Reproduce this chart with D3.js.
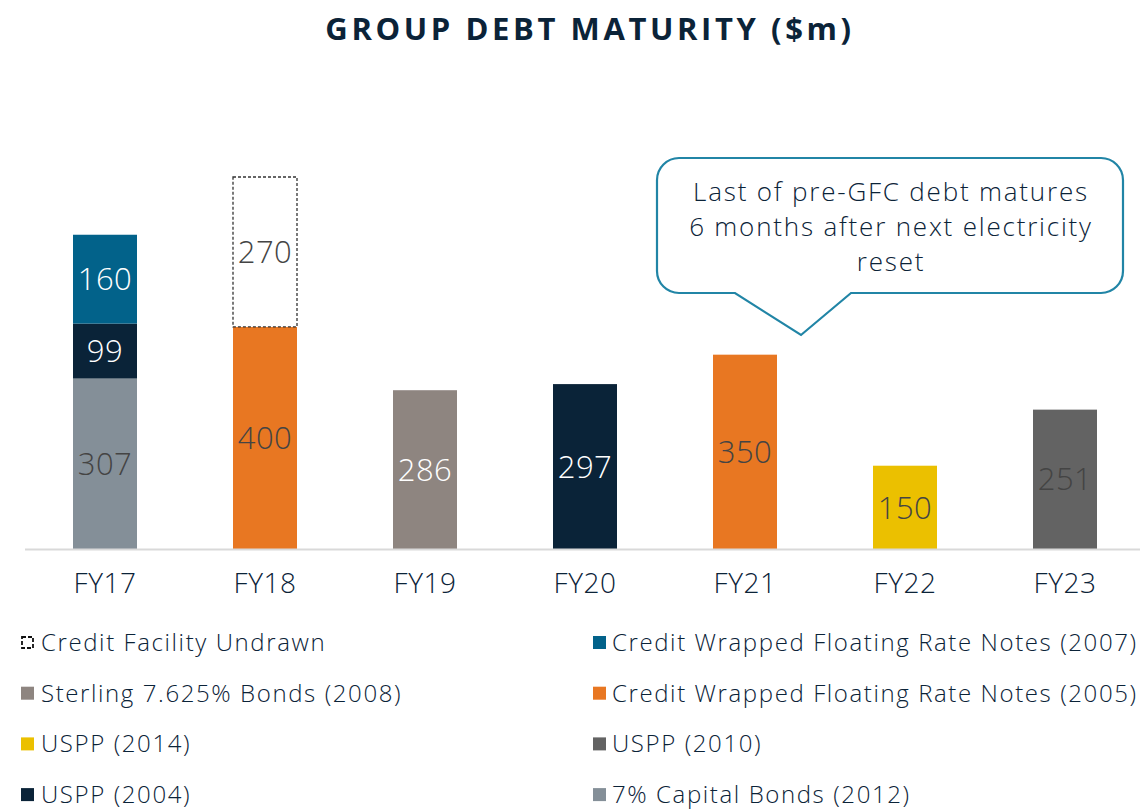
<!DOCTYPE html>
<html lang="en">
  <head>
    <meta charset="utf-8" />
    <title>Group debt maturity</title>
    <script src="https://cdnjs.cloudflare.com/ajax/libs/d3/7.8.5/d3.min.js"></script>
    <style type="text/css">
      body {
        margin: 0;
        background: #fff;
      }
      svg text {
        font-family: "Open Sans", sans-serif;
      }
      .title {
        font-size: 31px;
        font-weight: 700;
        fill: #0b2338;
        letter-spacing: 3.6px;
      }
      .tick-label {
        font-size: 28px;
        font-weight: 300;
        fill: #0b2338;
        letter-spacing: 0.5px;
      }
      .value {
        font-size: 31px;
        font-weight: 300;
        letter-spacing: 0.5px;
      }
      .legend text {
        font-size: 24px;
        font-weight: 300;
        fill: #0b2338;
        letter-spacing: 1.6px;
      }
      .callout text {
        font-size: 26px;
        font-weight: 300;
        fill: #0b2338;
        letter-spacing: 1.8px;
      }
    </style>
  </head>

  <body>
    <div id="playground"></div>

    <script>
      // categories
      const years = ["FY17", "FY18", "FY19", "FY20", "FY21", "FY22", "FY23"];

      // series, in stacking order (bottom -> top)
      const seriesKeys = ["cap2012", "uspp2004", "cwfrn2007", "cwfrn2005", "undrawn", "sterling2008", "uspp2014", "uspp2010"];
      const seriesNames = [
        "7% Capital Bonds (2012)",
        "USPP (2004)",
        "Credit Wrapped Floating Rate Notes (2007)",
        "Credit Wrapped Floating Rate Notes (2005)",
        "Credit Facility Undrawn",
        "Sterling 7.625% Bonds (2008)",
        "USPP (2014)",
        "USPP (2010)"
      ];
      const seriesColors = ["#848f98", "#0a2338", "#02628a", "#e87722", "#ffffff", "#8e8580", "#ebc000", "#636363"];
      const labelColors = ["#444", "#fff", "#fff", "#444", "#444", "#fff", "#444", "#444"];

      // values per year ($m)
      const cap2012 = [307, 0, 0, 0, 0, 0, 0];
      const uspp2004 = [99, 0, 0, 297, 0, 0, 0];
      const cwfrn2007 = [160, 0, 0, 0, 0, 0, 0];
      const cwfrn2005 = [0, 400, 0, 0, 350, 0, 0];
      const undrawn = [0, 270, 0, 0, 0, 0, 0];
      const sterling2008 = [0, 0, 286, 0, 0, 0, 0];
      const uspp2014 = [0, 0, 0, 0, 0, 150, 0];
      const uspp2010 = [0, 0, 0, 0, 0, 0, 251];

      // legend layout order (left column, right column)
      const legendLeft = ["undrawn", "sterling2008", "uspp2014", "uspp2004"];
      const legendRight = ["cwfrn2007", "cwfrn2005", "uspp2010", "cap2012"];

      const calloutLines = ["Last of pre-GFC debt matures", "6 months after next electricity", "reset"];

      const width = 1140;
      const height = 812;
      const baseline = 549;

      const valuesByKey = { cap2012, uspp2004, cwfrn2007, cwfrn2005, undrawn, sterling2008, uspp2014, uspp2010 };

      const table = years.map((yr, i) => {
        const row = { year: yr };
        seriesKeys.forEach(k => (row[k] = valuesByKey[k][i]));
        return row;
      });

      const stacked = d3.stack().keys(seriesKeys)(table);

      const x = d3.scaleBand()
        .domain(years)
        .range([25, 1145])
        .paddingInner(0.6)
        .paddingOuter(0.3);

      const y = d3.scaleLinear()
        .domain([0, 670])
        .range([baseline, 177]);

      const svg = d3.select("#playground")
        .append("svg")
        .attr("width", width)
        .attr("height", height)
        .attr("viewBox", [0, 0, width, height]);

      // title
      svg.append("text")
        .attr("class", "title")
        .attr("x", 590)
        .attr("y", 40)
        .attr("text-anchor", "middle")
        .text("GROUP DEBT MATURITY ($m)");

      // bars
      const layer = svg.append("g")
        .selectAll("g")
        .data(stacked)
        .join("g");

      const segs = s => s.map(d => ({ d, key: s.key, idx: s.index })).filter(o => o.d[1] - o.d[0] > 0);

      layer.selectAll("rect")
        .data(segs)
        .join("rect")
        .attr("x", o => x(o.d.data.year))
        .attr("width", x.bandwidth())
        .attr("y", o => y(o.d[1]))
        .attr("height", o => y(o.d[0]) - y(o.d[1]))
        .attr("fill", o => seriesColors[o.idx])
        .attr("stroke", o => (o.key === "undrawn" ? "#333" : "none"))
        .attr("stroke-width", o => (o.key === "undrawn" ? 1.3 : 0))
        .attr("stroke-dasharray", o => (o.key === "undrawn" ? "3,2" : null));

      layer.selectAll("text")
        .data(segs)
        .join("text")
        .attr("class", "value")
        .attr("x", o => x(o.d.data.year) + x.bandwidth() / 2)
        .attr("y", o => (y(o.d[0]) + y(o.d[1])) / 2)
        .attr("dy", "0.36em")
        .attr("text-anchor", "middle")
        .attr("fill", o => labelColors[o.idx])
        .text(o => o.d[1] - o.d[0]);

      // x axis
      const xAxis = d3.axisBottom(x).tickSize(0).tickPadding(24);
      svg.append("g")
        .attr("transform", `translate(0, ${baseline})`)
        .call(xAxis)
        .call(g => g.select(".domain").attr("d", `M25,0.5H1140`).attr("stroke", "#d9d9d9").attr("stroke-width", 2))
        .call(g => g.selectAll(".tick text").attr("class", "tick-label").attr("fill", null))
        .attr("font-size", null)
        .attr("font-family", null);

      // callout
      const callout = svg.append("g").attr("class", "callout");
      const bx0 = 657, bx1 = 1123, by0 = 158, by1 = 293, r = 22;
      const tipX = x("FY21") + x.bandwidth() / 2 + 56, tipY = 335;
      const p = d3.path();
      p.moveTo(bx0 + r, by0);
      p.lineTo(bx1 - r, by0);
      p.arcTo(bx1, by0, bx1, by0 + r, r);
      p.lineTo(bx1, by1 - r);
      p.arcTo(bx1, by1, bx1 - r, by1, r);
      p.lineTo(851, by1);
      p.lineTo(tipX, tipY);
      p.lineTo(735, by1);
      p.lineTo(bx0 + r, by1);
      p.arcTo(bx0, by1, bx0, by1 - r, r);
      p.lineTo(bx0, by0 + r);
      p.arcTo(bx0, by0, bx0 + r, by0, r);
      p.closePath();
      callout.append("path")
        .attr("d", p.toString())
        .attr("fill", "#fff")
        .attr("stroke", "#2185a6")
        .attr("stroke-width", 2.2);
      callout.selectAll("text")
        .data(calloutLines)
        .join("text")
        .attr("x", 891)
        .attr("y", (d, i) => 201 + i * 35)
        .attr("text-anchor", "middle")
        .text(d => d);

      // legend
      const legend = svg.append("g").attr("class", "legend");
      function drawLegendColumn(keys, sx, tx) {
        keys.forEach((k, i) => {
          const idx = seriesKeys.indexOf(k);
          const cy = 642.5 + i * 50.7;
          const g = legend.append("g");
          if (k === "undrawn") {
            g.append("rect")
              .attr("x", sx + 1).attr("y", cy - 5.5)
              .attr("width", 11).attr("height", 11)
              .attr("fill", "#fff")
              .attr("stroke", "#111")
              .attr("stroke-width", 1.8)
              .attr("stroke-dasharray", "4,2");
          } else {
            g.append("rect")
              .attr("x", sx).attr("y", cy - 6.5)
              .attr("width", 13).attr("height", 13)
              .attr("fill", seriesColors[idx]);
          }
          g.append("text")
            .attr("x", tx)
            .attr("y", cy + 8.5)
            .text(seriesNames[idx]);
        });
      }
      drawLegendColumn(legendLeft, 21, 41);
      drawLegendColumn(legendRight, 593, 612);
    </script>
  </body>
</html>
